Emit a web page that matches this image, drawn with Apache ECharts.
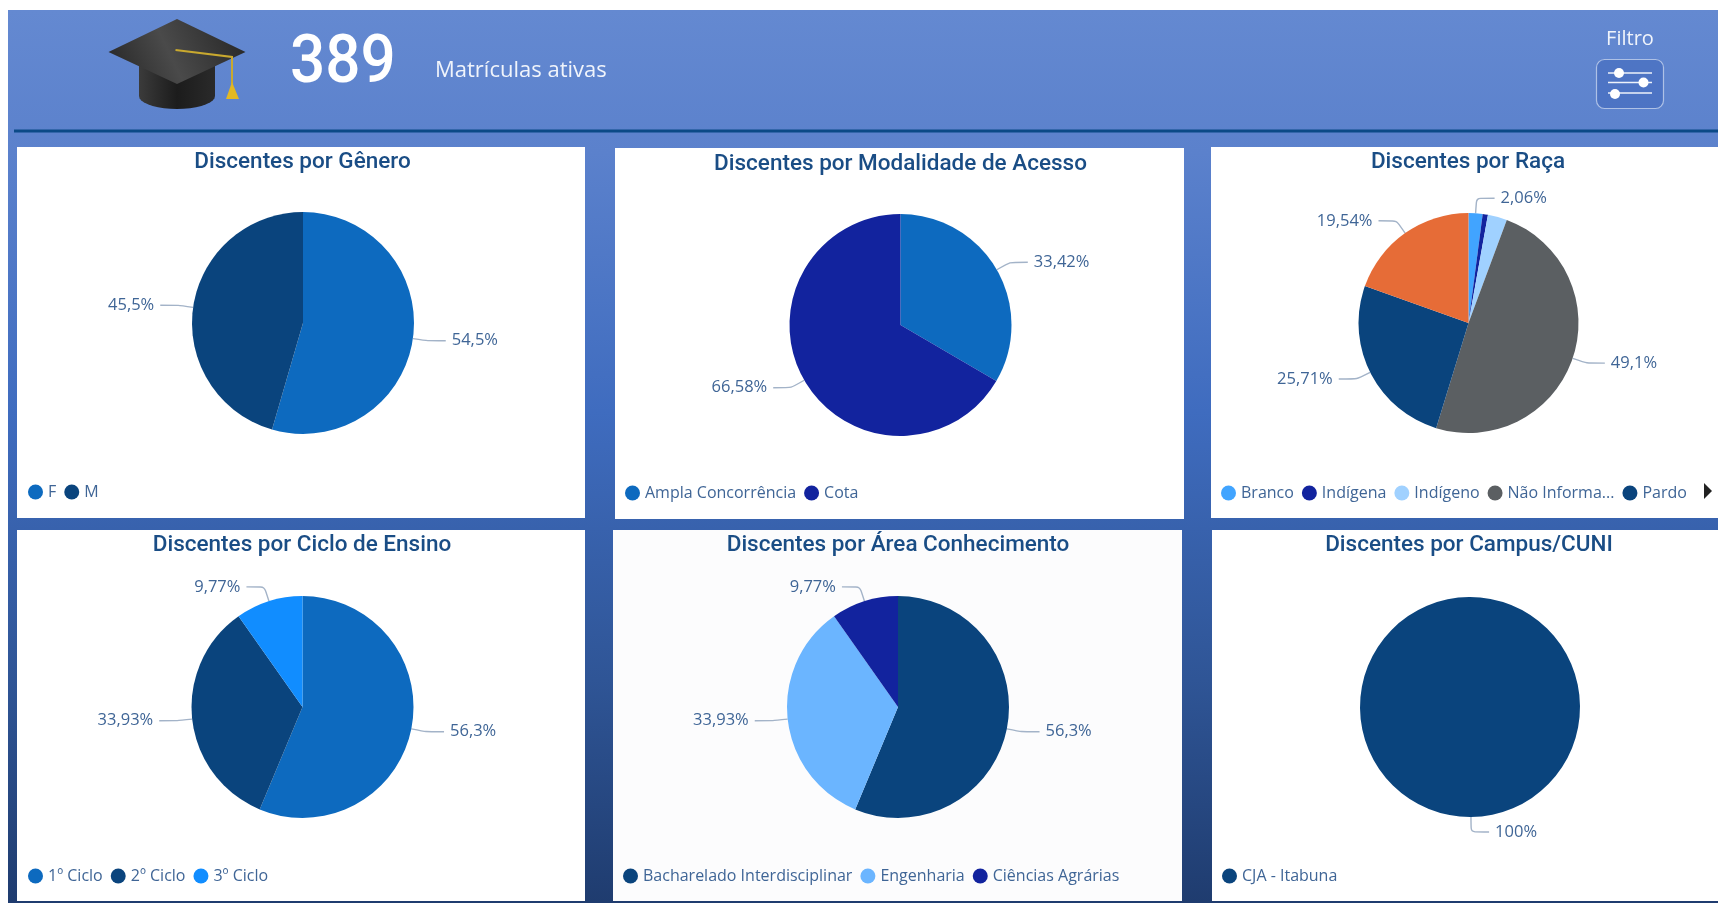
<!DOCTYPE html>
<html><head><meta charset="utf-8">
<style>html,body{margin:0;padding:0;background:#fff;overflow:hidden}#c{width:1718px;height:903px}</style>
<script src="https://cdn.jsdelivr.net/npm/echarts@6/dist/echarts.min.js"></script>
</head><body><div id="c"></div>
<script>
// ---- data ----
const generoNames = ['F','M'];
const generoValues = [54.5,45.5];
const generoColors = ['#0d6abf','#0a447d'];
const modalidadeNames = ['Ampla Concorrência','Cota'];
const modalidadeValues = [33.42,66.58];
const modalidadeColors = ['#0d6abf','#12239e'];
const racaNames = ['Branco','Indígena','Indígeno','Não Informado','Pardo','Preto'];
const racaValues = [2.06,0.77,2.83,49.1,25.71,19.54];
const racaColors = ['#41a4ff','#12239e','#a0d1ff','#5b5f62','#0a447d','#e66c37'];
const racaHiddenLabels = ['Indígena','Indígeno'];
const racaLegend = ['Branco','Indígena','Indígeno','Não Informado','Pardo'];
const cicloNames = ['1º Ciclo','2º Ciclo','3º Ciclo'];
const cicloValues = [56.3,33.93,9.77];
const cicloColors = ['#0d6abf','#0a447d','#118dff'];
const areaNames = ['Bacharelado Interdisciplinar','Engenharia','Ciências Agrárias'];
const areaValues = [56.3,33.93,9.77];
const areaColors = ['#0a447d','#6bb5ff','#12239e'];
const campusNames = ['CJA - Itabuna'];
const campusValues = [100];
const campusColors = ['#0a447d'];
const titles = ['Discentes por Gênero','Discentes por Modalidade de Acesso','Discentes por Raça','Discentes por Ciclo de Ensino','Discentes por Área Conhecimento','Discentes por Campus/CUNI'];
const kpiValue = '389';
const kpiLabel = 'Matrículas ativas';
const filterLabel = 'Filtro';

// ---- layout ----
const panels = [
 {x:17,y:147,w:568,h:371,fill:'#ffffff',cx:303,cy:323,r:111,start:90,tx:302.5,ty:151,lx:28,ly:484},
 {x:615,y:148,w:569,h:371,fill:'#ffffff',cx:900.5,cy:325,r:111,start:90,tx:900.5,ty:153,lx:625,ly:485},
 {x:1211,y:147,w:507,h:371,fill:'#ffffff',cx:1468.5,cy:323,r:110,start:90,tx:1468,ty:151,lx:1221,ly:485},
 {x:17,y:530,w:568,h:371,fill:'#ffffff',cx:302.5,cy:707,r:111,start:90,tx:302,ty:534,lx:28,ly:868},
 {x:613,y:530,w:569,h:371,fill:'#fcfcfd',cx:898,cy:707,r:111,start:90,tx:898,ty:534,lx:623,ly:868},
 {x:1212,y:530,w:506,h:371,fill:'#ffffff',cx:1470,cy:707,r:110,start:90.5,tx:1469,ty:534,lx:1222,ly:868}
];
const fmt = v => v.toLocaleString('pt-BR',{maximumFractionDigits:2})+'%';
const font = '"Open Sans"';
const labelColor = '#3f6596';
const lineColor = '#a3b3c8';

function pie(names,values,colors,p,hidden){
  return {
    type:'pie',center:[p.cx,p.cy],radius:[0,p.r],startAngle:p.start,clockwise:true,
    avoidLabelOverlap:false,animation:false,silent:true,
    itemStyle:{borderWidth:0},
    label:{show:true,formatter:o=>fmt(o.value),color:labelColor,fontFamily:font,fontSize:16.5,distanceToLabelLine:6,padding:[4,0,0,0]},
    labelLine:{show:true,length:15,length2:18,smooth:0.15,lineStyle:{color:lineColor,width:1.4}},
    data:names.map((n,i)=>({name:n,value:values[i],itemStyle:{color:colors[i]},
      label:{show:!(hidden||[]).includes(n)},labelLine:{show:!(hidden||[]).includes(n)}}))
  };
}
function legend(data,p){
  return {data:data,left:p.lx,top:p.ly,orient:'horizontal',icon:'circle',itemWidth:15,itemHeight:15,itemGap:8,
    padding:0,selectedMode:false,
    formatter:n=>n.length>12&&n.startsWith('Não')?n.slice(0,11)+'...':n,
    textStyle:{color:labelColor,fontFamily:font,fontSize:16,letterSpacing:-0.15}};
}
const series=[
 pie(generoNames,generoValues,generoColors,panels[0]),
 pie(modalidadeNames,modalidadeValues,modalidadeColors,panels[1]),
 pie(racaNames,racaValues,racaColors,panels[2],racaHiddenLabels),
 pie(cicloNames,cicloValues,cicloColors,panels[3]),
 pie(areaNames,areaValues,areaColors,panels[4]),
 pie(campusNames,campusValues,campusColors,panels[5])
];
const legends=[generoNames,modalidadeNames,racaLegend,cicloNames,areaNames,campusNames].map((d,i)=>legend(d,panels[i]));
const titleOpts=titles.map((t,i)=>({text:t,left:panels[i].tx,top:panels[i].ty,textAlign:'center',padding:0,
  textStyle:{color:'#1a4d85',fontFamily:'Roboto',fontWeight:500,fontSize:22.5,letterSpacing:1.25}}));

const lg=(stops,x=0,y=0,x2=0,y2=1)=>({type:'linear',x,y,x2,y2,colorStops:stops.map(s=>({offset:s[0],color:s[1]}))});
// cap body outline: straight sides closed by a half ellipse
const capBody=[[139,66]];
for(let a=180;a>=0;a-=10){capBody.push([177+38*Math.cos(a*Math.PI/180),96+13*Math.sin(a*Math.PI/180)]);}
capBody.push([215,66]);
const bg=[
 {type:'rect',z:-10,shape:{x:8,y:10,width:1710,height:893},style:{fill:lg([[0,'#6489d1'],[0.16,'#5b81cc'],[0.45,'#3f6cbf'],[0.75,'#2f5596'],[1,'#1f3c6f']])}},
 {type:'rect',z:-9,shape:{x:14,y:129.5,width:1704,height:3},style:{fill:'#0b4a87'}},
 ...panels.map(p=>({type:'rect',z:-8,shape:{x:p.x,y:p.y,width:p.w,height:p.h},style:{fill:p.fill}})),
 // cap
 {type:'polygon',z:5,shape:{points:capBody},style:{fill:lg([[0,'#3b3b3b'],[0.5,'#1c1c1c'],[1,'#2a2a2a']],0,0,1,0)}},
 {type:'polygon',z:6,shape:{points:[[108.5,52],[177,19],[245.5,52],[177,84]]},style:{fill:lg([[0,'#242424'],[0.45,'#4a4a4a'],[1,'#242424']],0,1,1,0)}},
 {type:'polyline',z:7,shape:{points:[[175.5,50],[232,57],[232,84]]},style:{stroke:'#c9a92f',lineWidth:2,fill:null}},
 {type:'polygon',z:7,shape:{points:[[232,82],[226,99],[239,99]]},style:{fill:'#e3b822'}},
 // kpi
 {type:'text',z:8,x:290,y:65,style:{text:kpiValue,font:'500 66px Roboto',fill:'#fff',textVerticalAlign:'middle',textAlign:'left'},scaleX:0.94},
 {type:'text',z:8,x:435,y:71,style:{text:kpiLabel,font:'22px "Open Sans"',fill:'#f0f4fb',textVerticalAlign:'middle',textAlign:'left'}},
 {type:'text',z:8,x:1630,y:39,style:{text:filterLabel,font:'20px "Open Sans"',fill:'#f0f4fb',textVerticalAlign:'middle',textAlign:'center'}},
 // filter icon
 {type:'rect',z:8,shape:{x:1596.5,y:59.5,width:67,height:49,r:8},style:{fill:'rgba(60,100,185,0.5)',stroke:'#aec1e6',lineWidth:1.2}},
 {type:'line',z:9,shape:{x1:1608,y1:73,x2:1652,y2:73},style:{stroke:'#eef2fa',lineWidth:1.6}},
 {type:'line',z:9,shape:{x1:1608,y1:82.5,x2:1652,y2:82.5},style:{stroke:'#eef2fa',lineWidth:1.6}},
 {type:'line',z:9,shape:{x1:1608,y1:93,x2:1652,y2:93},style:{stroke:'#eef2fa',lineWidth:1.6}},
 {type:'circle',z:9,shape:{cx:1619,cy:73,r:5},style:{fill:'#fff'}},
 {type:'circle',z:9,shape:{cx:1643.5,cy:82.5,r:5},style:{fill:'#fff'}},
 {type:'circle',z:9,shape:{cx:1615,cy:94,r:5},style:{fill:'#fff'}},
 // legend arrow
 {type:'polygon',z:9,shape:{points:[[1704,483],[1712,491],[1704,499]]},style:{fill:'#222'}}
];

const chart=echarts.init(document.getElementById('c'),null,{renderer:'canvas',width:1718,height:903});
chart.setOption({animation:false,backgroundColor:'#ffffff',title:titleOpts,legend:legends,series:series,graphic:{elements:bg}});
</script>
</body></html>
